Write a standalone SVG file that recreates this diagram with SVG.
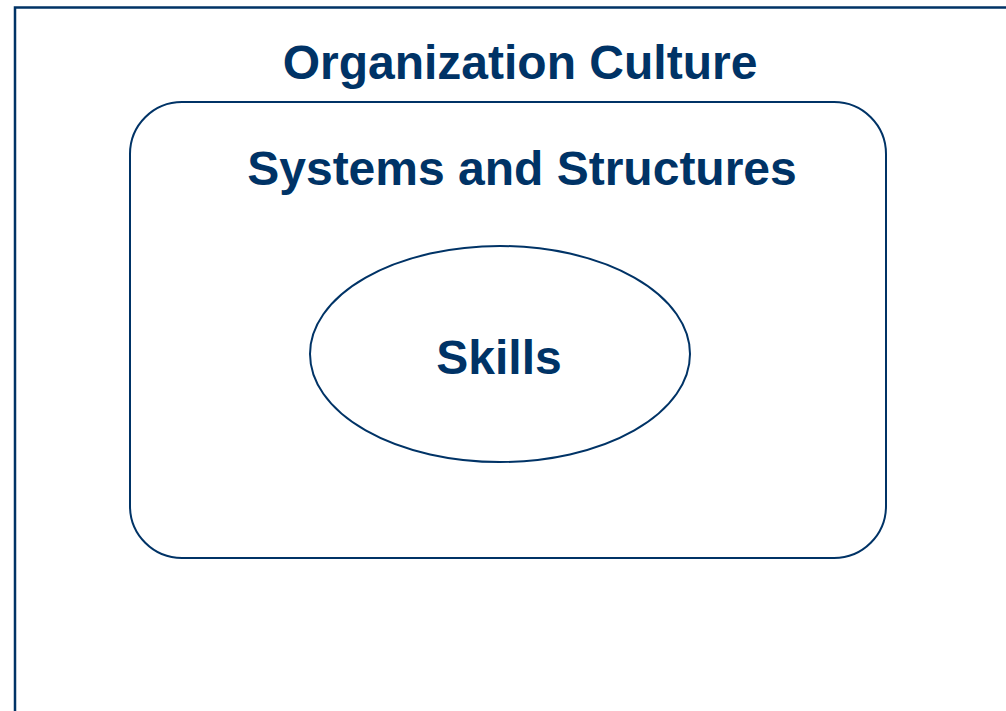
<svg xmlns="http://www.w3.org/2000/svg" width="1006" height="711" viewBox="0 0 1006 711">
<style>
.ln{fill:none;stroke:#003366;}
.t{font-family:"Liberation Sans",Arial,sans-serif;font-weight:bold;font-size:48px;fill:#003366;text-anchor:middle;}
</style>
<rect width="1006" height="711" fill="#ffffff"/>
<g id="culture">
<rect class="ln" x="15" y="7.5" width="1010" height="720" stroke-width="2.5"/>
<text class="t" x="520" y="79">Organization Culture</text>
</g>
<g id="systems">
<rect class="ln" x="130" y="102" width="756" height="456" rx="52" ry="52" stroke-width="2"/>
<text class="t" x="522" y="185">Systems and Structures</text>
</g>
<g id="skills">
<ellipse class="ln" cx="500" cy="354" rx="190" ry="108" stroke-width="2"/>
<text class="t" x="499" y="374">Skills</text>
</g>
<g id="connectors"/>
</svg>
